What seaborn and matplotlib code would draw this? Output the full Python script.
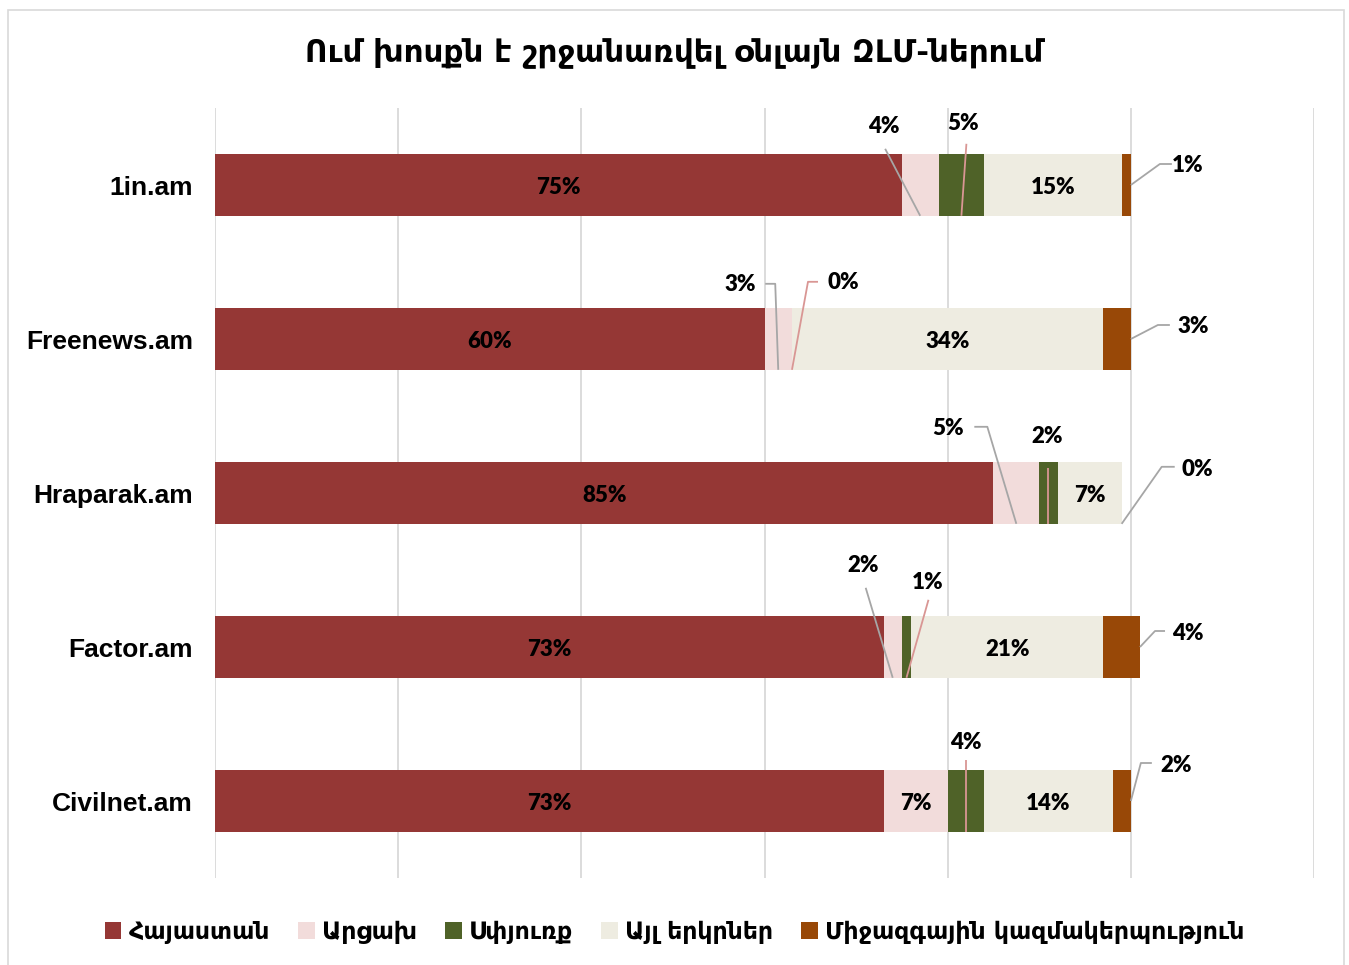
import matplotlib
matplotlib.use("Agg")
import matplotlib.pyplot as plt
from matplotlib.patches import Patch, Rectangle
import seaborn as sns
import pandas as pd
import numpy as np

# Data
sites = ["1in.am", "Freenews.am", "Hraparak.am", "Factor.am", "Civilnet.am"]
series = ["Հայաստան", "Արցախ", "Սփյուռք", "Այլ երկրներ", "Միջազգային կազմակերպություն"]
hayastan = [75, 60, 85, 73, 73]
artsakh = [4, 3, 5, 2, 7]
spyurk = [5, 0, 2, 1, 4]
other = [15, 34, 7, 21, 14]
intl = [1, 3, 0, 4, 2]
title = "Ում խոսքն է շրջանառվել օնլայն ԶԼՄ-ներում"

colors = ["#953735", "#F2DCDB", "#4F6228", "#EEECE1", "#984807"]
leader_colors = ["#A6A6A6", "#A6A6A6", "#D99694", "#A6A6A6", "#A6A6A6"]

# outside label layout: (site, series) -> text offset px, line points px (relative to anchor)
outside = {
    (0, 1): ((-36, -90), [(-35, -67)]),
    (0, 2): ((2, -93), [(5, -72)]),
    (0, 4): ((57, -21), [(41, -21), (29, -21)]),
    (1, 1): ((-38, -86), [(-13, -86), (-3, -86)]),
    (1, 2): ((51, -88), [(26, -88), (16, -88)]),
    (1, 4): ((62, -14), [(39, -14), (27, -14)]),
    (2, 1): ((-68, -96), [(-42, -97), (-29, -97)]),
    (2, 2): ((-1, -88), [(0, -56)]),
    (2, 4): ((76, -55), [(53, -57), (40, -57)]),
    (3, 1): ((-30, -113), [(-27, -90)]),
    (3, 2): ((21, -96), [(22, -78)]),
    (3, 4): ((48, -15), [(25, -16), (15, -16)]),
    (4, 2): ((0, -90), [(0, -72)]),
    (4, 4): ((45, -37), [(21, -38), (10, -38)]),
}

values = np.array([hayastan, artsakh, spyurk, other, intl])
cum = values.cumsum(axis=0)

fig = plt.figure(figsize=(13.49, 9.65), dpi=100)
ax = fig.add_axes([215 / 1349, 1 - 878 / 965, 1099 / 1349, 770 / 965])

# stacked bars: draw cumulative totals from the largest down
for k in range(len(series) - 1, -1, -1):
    df = pd.DataFrame({"site": sites, "value": cum[k]})
    sns.barplot(data=df, x="value", y="site", orient="h", color=colors[k],
                width=0.4, saturation=1, ax=ax, edgecolor="none", linewidth=0)

ax.set_xlim(0, 120)
ax.set_ylim(4.5, -0.5)
ax.set_xticks(range(0, 121, 20))
ax.set_xticklabels([])
ax.tick_params(length=0)
ax.xaxis.grid(True, color="#D9D9D9", lw=1.3)
ax.set_axisbelow(True)
for s in ax.spines.values():
    s.set_visible(False)
ax.set_xlabel("")
ax.set_ylabel("")
ax.set_yticks(range(len(sites)))
ax.set_yticklabels(sites, fontfamily="Liberation Sans", fontweight="bold",
                   fontsize=19, color="black")
ax.tick_params(axis="y", pad=16)

xs = 9.15   # px per percent
ys = 154.0  # px per category
lab_kw = dict(fontfamily="Lato", fontweight="heavy", fontsize=16, color="black",
              ha="center", va="center")

for i in range(len(sites)):
    for k in range(len(series)):
        v = values[k, i]
        left = cum[k, i] - v
        if v >= 7:
            ax.text(left + v / 2, i + 2 / ys, f"{v}%", **lab_kw)
            continue
        (tdx, tdy), pts = outside[(i, k)]
        if k == 4:
            ax_, ay_ = cum[k, i], i + (0.2 if v == 0 else 0.0)
        else:
            ax_, ay_ = left + v / 2, i + 0.2
        ax.text(ax_ + tdx / xs, ay_ + (tdy + 1) / ys, f"{v}%", **lab_kw)
        lx = [ax_ + p[0] / xs for p in pts] + [ax_]
        ly = [ay_ + p[1] / ys for p in pts] + [ay_]
        ax.plot(lx, ly, color=leader_colors[k], lw=1.3, solid_capstyle="butt")

fig.text(0.5, 1 - 53 / 965, title, ha="center", va="center",
         fontfamily="DejaVu Sans", fontweight="bold", fontsize=22.3)

handles = [Patch(facecolor=c, edgecolor="none") for c in colors]
fig.legend(handles, series, loc="center", bbox_to_anchor=(0.5, 1 - 932 / 965),
           ncol=5, frameon=False, handlelength=0.7, handleheight=0.7,
           handletextpad=0.3, columnspacing=1.2,
           prop={"family": "DejaVu Sans", "size": 17, "weight": "bold"})

fig.patches.append(Rectangle((8 / 1349, -0.01), 1336 / 1349, 1 - 10 / 965 + 0.01,
                             transform=fig.transFigure, fill=False,
                             edgecolor="#D9D9D9", lw=1.2))

fig.savefig("out.png", dpi=100)
